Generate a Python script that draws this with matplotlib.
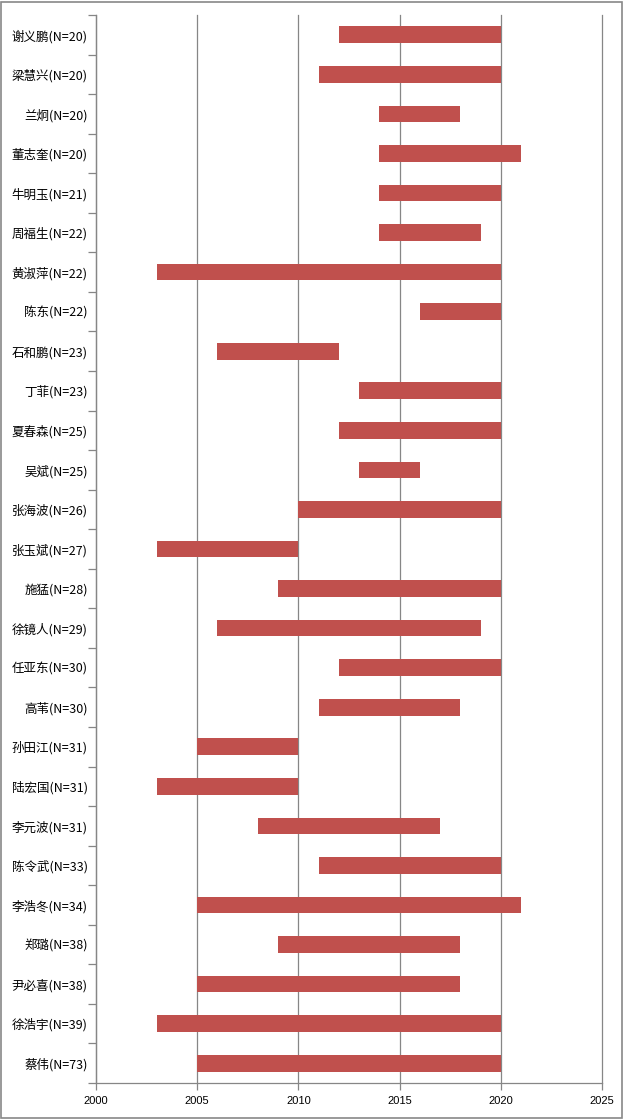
import matplotlib
matplotlib.use("Agg")
import matplotlib.pyplot as plt
from matplotlib.patches import Rectangle

names = ["谢义鹏", "梁慧兴", "兰炯", "董志奎", "牛明玉", "周福生", "黄淑萍", "陈东", "石和鹏",
         "丁菲", "夏春森", "吴斌", "张海波", "张玉斌", "施猛", "徐镜人", "任亚东", "高苇",
         "孙田江", "陆宏国", "李元波", "陈令武", "李浩冬", "郑璐", "尹必喜", "徐浩宇", "蔡伟"]
counts = [20, 20, 20, 20, 21, 22, 22, 22, 23, 23, 25, 25, 26, 27, 28, 29, 30, 30,
          31, 31, 31, 33, 34, 38, 38, 39, 73]
start = [2012, 2011, 2014, 2014, 2014, 2014, 2003, 2016, 2006, 2013, 2012, 2013, 2010, 2003,
         2009, 2006, 2012, 2011, 2005, 2003, 2008, 2011, 2005, 2009, 2005, 2003, 2005]
end = [2020, 2020, 2018, 2021, 2020, 2019, 2020, 2020, 2012, 2020, 2020, 2016, 2020, 2010,
       2020, 2019, 2020, 2018, 2010, 2010, 2017, 2020, 2021, 2018, 2018, 2020, 2020]
xticks = [2000, 2005, 2010, 2015, 2020, 2025]

labels = [f"{n}(N={c})" for n, c in zip(names, counts)]

fig = plt.figure(figsize=(6.23, 11.19), dpi=100)
ax = fig.add_axes([96/623, 36/1119, 506/623, 1068/1119])

ypos = list(range(len(names)))
widths = [e - s for s, e in zip(start, end)]
ax.barh(ypos, widths, left=start, height=0.42, color="#C0504D", zorder=3)

ax.set_xlim(2000, 2025)
ax.set_ylim(len(names) - 0.5, -0.5)
ax.set_xticks(xticks)
ax.set_xticklabels([str(x) for x in xticks], fontsize=8, family="Liberation Sans")
ax.xaxis.grid(True, color="#868686", linewidth=0.9, zorder=0)
for gl in ax.get_xgridlines():
    gl.set_clip_on(False)
ax.set_yticks(ypos)
ax.set_yticklabels(labels, fontsize=9, family=["Noto Sans CJK SC", "DejaVu Sans"])
ax.set_yticks([i - 0.5 for i in range(len(names) + 1)], minor=True)
ax.tick_params(axis="y", which="major", length=0, pad=6)
ax.tick_params(axis="y", which="minor", length=6, color="#868686", width=0.9)
ax.tick_params(axis="x", length=5, color="#868686", width=0.9, pad=4)
for s in ["top", "right"]:
    ax.spines[s].set_visible(False)
for s in ["left", "bottom"]:
    ax.spines[s].set_color("#868686")
    ax.spines[s].set_linewidth(0.9)

fig.patches.append(Rectangle((0.001, 0.001), 0.997, 0.997, transform=fig.transFigure,
                             fill=False, edgecolor="#888888", linewidth=1.2))

fig.savefig("out.png", dpi=100)
